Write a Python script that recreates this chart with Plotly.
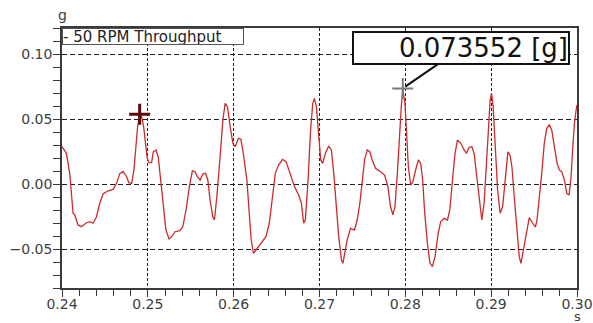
import plotly.graph_objects as go

# Accelerometer trace, 50 RPM throughput run (time in s, acceleration in g)
time_s = [
    0.24000, 0.24051, 0.24090, 0.24110, 0.24129, 0.24148, 0.24187, 0.24227, 0.24285, 0.24324,
    0.24362, 0.24402, 0.24440, 0.24479, 0.24537, 0.24596, 0.24636, 0.24674, 0.24713, 0.24752,
    0.24779, 0.24811, 0.24838, 0.24861, 0.24881, 0.24905, 0.24928, 0.24951, 0.24974, 0.24993,
    0.25013, 0.25044, 0.25063, 0.25095, 0.25121, 0.25150, 0.25180, 0.25211, 0.25247, 0.25278,
    0.25317, 0.25375, 0.25407, 0.25445, 0.25484, 0.25519, 0.25550, 0.25577, 0.25609, 0.25640,
    0.25671, 0.25699, 0.25725, 0.25757, 0.25776, 0.25804, 0.25842, 0.25874, 0.25901, 0.25928,
    0.25959, 0.25991, 0.26018, 0.26056, 0.26084, 0.26115, 0.26154, 0.26181, 0.26204, 0.26231,
    0.26271, 0.26329, 0.26376, 0.26415, 0.26446, 0.26485, 0.26523, 0.26570, 0.26610, 0.26660,
    0.26710, 0.26757, 0.26789, 0.26815, 0.26835, 0.26867, 0.26894, 0.26921, 0.26940, 0.26964,
    0.26991, 0.27014, 0.27037, 0.27069, 0.27107, 0.27139, 0.27166, 0.27194, 0.27224, 0.27256,
    0.27273, 0.27322, 0.27361, 0.27408, 0.27439, 0.27470, 0.27498, 0.27525, 0.27556, 0.27586,
    0.27614, 0.27653, 0.27711, 0.27758, 0.27797, 0.27828, 0.27855, 0.27879, 0.27907, 0.27930,
    0.27953, 0.27970, 0.27995, 0.28015, 0.28035, 0.28062, 0.28089, 0.28120, 0.28152, 0.28179,
    0.28202, 0.28226, 0.28257, 0.28287, 0.28315, 0.28346, 0.28383, 0.28412, 0.28451, 0.28491,
    0.28518, 0.28549, 0.28579, 0.28607, 0.28646, 0.28685, 0.28713, 0.28743, 0.28775, 0.28801,
    0.28829, 0.28860, 0.28891, 0.28918, 0.28946, 0.28970, 0.28988, 0.29005, 0.29023, 0.29047,
    0.29075, 0.29105, 0.29133, 0.29164, 0.29195, 0.29219, 0.29242, 0.29269, 0.29297, 0.29327,
    0.29347, 0.29376, 0.29414, 0.29444, 0.29484, 0.29516, 0.29534, 0.29561, 0.29589, 0.29619,
    0.29647, 0.29678, 0.29706, 0.29736, 0.29768, 0.29794, 0.29822, 0.29853, 0.29881, 0.29908,
    0.29931, 0.29951, 0.29970, 0.29990, 0.30000,
]
accel_g = [
    0.0287, 0.0236, 0.0082, -0.0098, -0.0225, -0.0238, -0.0315, -0.0328, -0.0298, -0.0290,
    -0.0302, -0.0252, -0.0148, -0.0077, -0.0052, -0.0041, 0.0005, 0.0082, 0.0095, 0.0056,
    0.0010, 0.0005, 0.0108, 0.0287, 0.0441, 0.0536, 0.0518, 0.0441, 0.0287, 0.0198,
    0.0164, 0.0164, 0.0248, 0.0262, 0.0210, 0.0031, -0.0148, -0.0354, -0.0423, -0.0405,
    -0.0367, -0.0359, -0.0328, -0.0200, -0.0021, 0.0102, 0.0095, 0.0056, 0.0031, 0.0077,
    0.0082, 0.0031, -0.0123, -0.0252, -0.0277, -0.0098, 0.0210, 0.0492, 0.0621, 0.0595,
    0.0441, 0.0313, 0.0287, 0.0352, 0.0344, 0.0223, 0.0031, -0.0252, -0.0431, -0.0533,
    -0.0495, -0.0444, -0.0405, -0.0302, -0.0123, 0.0082, 0.0146, 0.0190, 0.0172, 0.0082,
    -0.0021, -0.0085, -0.0148, -0.0302, -0.0277, 0.0031, 0.0390, 0.0621, 0.0659, 0.0595,
    0.0364, 0.0185, 0.0159, 0.0236, 0.0292, 0.0262, 0.0082, -0.0175, -0.0405, -0.0585,
    -0.0610, -0.0431, -0.0341, -0.0354, -0.0277, -0.0148, 0.0031, 0.0185, 0.0262, 0.0248,
    0.0185, 0.0121, 0.0095, 0.0069, -0.0021, -0.0175, -0.0238, -0.0175, 0.0082, 0.0364,
    0.0595, 0.073552, 0.0621, 0.0390, 0.0133, -0.0008, 0.0018, 0.0108, 0.0185, 0.0159,
    0.0031, -0.0225, -0.0456, -0.0610, -0.0636, -0.0559, -0.0379, -0.0290, -0.0264, -0.0277,
    -0.0200, 0.0031, 0.0236, 0.0338, 0.0313, 0.0262, 0.0236, 0.0282, 0.0287, 0.0236,
    0.0082, -0.0123, -0.0277, -0.0148, 0.0133, 0.0441, 0.0646, 0.0698, 0.0595, 0.0287,
    -0.0046, -0.0225, -0.0175, 0.0031, 0.0248, 0.0223, 0.0133, -0.0098, -0.0354, -0.0559,
    -0.0610, -0.0508, -0.0354, -0.0258, -0.0302, -0.0331, -0.0277, -0.0123, 0.0082, 0.0313,
    0.0428, 0.0454, 0.0415, 0.0287, 0.0159, 0.0108, 0.0095, 0.0031, -0.0072, -0.0085,
    0.0056, 0.0287, 0.0467, 0.0569, 0.0608,
]

# Cursor readouts
cursor_a = (0.24905, 0.0536)
cursor_b = (0.27970, 0.073552)
readout_text = "0.073552 [g]"
series_name = "50 RPM Throughput"

LINE_RED = "#cc2b2b"
AXIS_GREY = "#3a3a3a"
TEXT_GREY = "#404040"
FONT = "DejaVu Sans"

fig = go.Figure()

fig.add_trace(go.Scatter(
    x=time_s, y=accel_g, mode="lines",
    line=dict(color=LINE_RED, width=1.3),
    hoverinfo="skip", showlegend=False,
))

fig.add_trace(go.Scatter(
    x=[cursor_a[0]], y=[cursor_a[1]], mode="markers",
    marker=dict(symbol="cross-thin", size=15, line=dict(color="#5c0a0a", width=3)),
    showlegend=False, hoverinfo="skip",
))
fig.add_trace(go.Scatter(
    x=[cursor_b[0]], y=[cursor_b[1]], mode="markers",
    marker=dict(symbol="cross-thin", size=15, line=dict(color="#7a7a7a", width=2)),
    showlegend=False, hoverinfo="skip",
))

common_axis = dict(
    showline=True, linecolor=AXIS_GREY, linewidth=1.5, mirror=True,
    ticks="outside", ticklen=7, tickwidth=1.2, tickcolor=AXIS_GREY,
    tickfont=dict(family=FONT, size=14, color=TEXT_GREY),
    tickformat=".2f", zeroline=False, automargin=False,
    showgrid=True, gridcolor="#1e1e1e", gridwidth=1,
)

fig.update_xaxes(
    **common_axis,
    range=[0.24, 0.30], tick0=0.24, dtick=0.01,
    griddash="3px,2px", ticklabelstandoff=-5,
    minor=dict(dtick=0.002, ticks="outside", ticklen=6, tickcolor=AXIS_GREY, showgrid=False),
)
fig.update_yaxes(
    **common_axis,
    range=[-0.08, 0.12], tick0=0, dtick=0.05,
    griddash="5px,3px", ticklabelstandoff=-2,
    minor=dict(dtick=0.01, ticks="outside", ticklen=7, tickcolor=AXIS_GREY, showgrid=False),
)

fig.add_annotation(
    x=cursor_b[0], y=cursor_b[1], xref="x", yref="y",
    text=readout_text, showarrow=True, arrowhead=0, arrowwidth=2, arrowcolor="#111111",
    ax=58, ay=-40, standoff=3,
    font=dict(family=FONT, size=26, color="#111111"),
    bgcolor="white", bordercolor="#111111", borderwidth=2, borderpad=0,
    width=214, align="right",
)

fig.add_annotation(
    x=0, y=1, xref="paper", yref="paper", xanchor="left", yanchor="top",
    text="- " + series_name, showarrow=False,
    font=dict(family=FONT, size=15, color="#222222"),
    bgcolor="white", bordercolor="#555555", borderwidth=1, borderpad=0,
    width=180, height=15, align="left",
)

fig.add_annotation(
    x=0, y=1, xref="paper", yref="paper", xanchor="center", yanchor="bottom",
    text="g", showarrow=False, yshift=3,
    font=dict(family=FONT, size=14, color=TEXT_GREY),
)
fig.add_annotation(
    x=1, y=0, xref="paper", yref="paper", xanchor="center", yanchor="top",
    text="s", showarrow=False, yshift=-19,
    font=dict(family=FONT, size=13, color=TEXT_GREY),
)

fig.update_layout(
    width=593, height=323, autosize=False,
    margin=dict(l=62, r=16, t=28, b=35),
    paper_bgcolor="white", plot_bgcolor="white",
    showlegend=False,
)

fig.write_html("out.html")
